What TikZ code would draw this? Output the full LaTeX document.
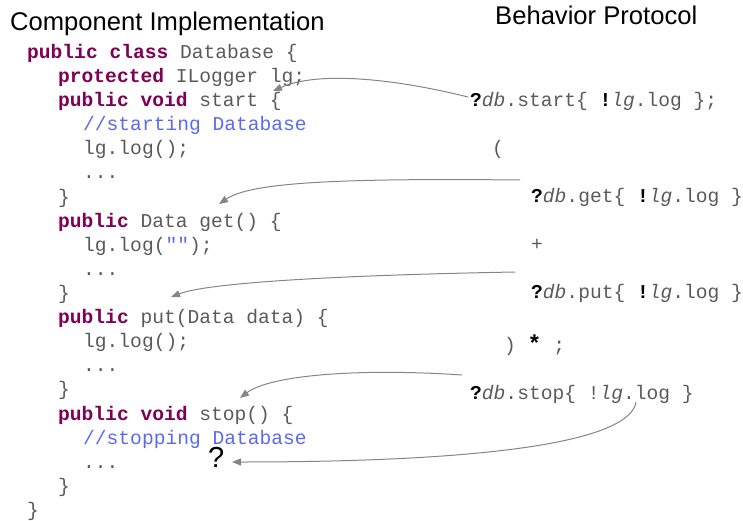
\documentclass[tikz,border=0pt]{standalone}
\usepackage{fontspec}
\usetikzlibrary{arrows.meta}
\newfontfamily\codefam{Liberation Mono}
\newfontfamily\titlefam{Liberation Sans}
\definecolor{codegray}{HTML}{5A5A5A}
\definecolor{kwpurple}{HTML}{7F0055}
\definecolor{cmblue}{HTML}{5A6AF0}
\definecolor{arrowgray}{HTML}{858585}
\newcommand\codefont{\codefam\fontsize{19.6}{22}\selectfont}
\newcommand\titlefont{\titlefam\fontsize{25.6}{28}\selectfont}
\newcommand\kw[1]{\textcolor{kwpurple}{\bfseries #1}}
\newcommand\cm[1]{\textcolor{cmblue}{#1}}
\newcommand\qmk{\textcolor{black}{\bfseries ?}}
\newcommand\exk{\textcolor{black}{\bfseries !}}
\tikzset{
  code/.style={anchor=base west, inner sep=0pt, font=\codefont, text=codegray},
  title/.style={anchor=base west, inner sep=0pt, font=\titlefont, text=black},
  link/.style={draw=arrowgray, line width=1pt, -{Triangle[length=9pt,width=7pt,fill=arrowgray]}},
}
\begin{document}
\begin{tikzpicture}[x=1pt,y=-1pt]
\useasboundingbox (0,0) rectangle (743,521);
% titles
\node[title] (t1) at (10,31) {Component Implementation};
\node[title] (t2) at (495,25) {Behavior Protocol};
% code
\node[code] (c0)  at (27,58.5)  {\kw{public class} Database \{};
\node[code] (c1)  at (58,82.6)  {\kw{protected} ILogger lg;};
\node[code] (c2)  at (58,106.7) {\kw{public void} start \{};
\node[code] (c3)  at (83,130.8) {\cm{//starting Database}};
\node[code] (c4)  at (83,154.9) {lg.log();};
\node[code] (c5)  at (83,179.0) {...};
\node[code] (c6)  at (58,203.1) {\}};
\node[code] (c7)  at (58,227.2) {\kw{public} Data get() \{};
\node[code] (c8)  at (83,251.3) {lg.log(\cm{""});};
\node[code] (c9)  at (83,275.4) {...};
\node[code] (c10) at (58,299.5) {\}};
\node[code] (c11) at (58,323.6) {\kw{public} put(Data data) \{};
\node[code] (c12) at (83,347.7) {lg.log();};
\node[code] (c13) at (83,371.8) {...};
\node[code] (c14) at (58,395.9) {\}};
\node[code] (c15) at (58,420.0) {\kw{public void} stop() \{};
\node[code] (c16) at (83,444.1) {\cm{//stopping Database}};
\node[code] (c17) at (83,468.2) {...};
\node[code] (c18) at (58,492.3) {\}};
\node[code] (c19) at (27,516.4) {\}};
% protocol
\node[code] (pstart) at (470,106.5) {\qmk\textit{db}.start\{ \exk\textit{lg}.log \};};
\node[code] (popen)  at (492,154.5) {(};
\node[code] (pget)   at (531,202.5) {\qmk\textit{db}.get\{ \exk\textit{lg}.log \}};
\node[code] (pplus)  at (531,250.5) {+};
\node[code] (pput)   at (531,298.5) {\qmk\textit{db}.put\{ \exk\textit{lg}.log \}};
\node[code] (pclose) at (504,351) {) {\color{black}\fontsize{23}{24}\selectfont\bfseries *} ;};
\node[code] (pstop)  at (470,399.5) {\qmk\textit{db}.stop\{ !\textit{lg}.log \}};
% question mark
\node[anchor=base west, inner sep=0pt, font=\titlefam\fontsize{29}{30}\selectfont] (qmark) at (208,467.5) {?};
% connector ends
\coordinate (s1) at (468,97);
\coordinate (e1) at (273,91);
\coordinate (s2) at (520,180);
\coordinate (e2) at (219,204);
\coordinate (s3) at (515,272);
\coordinate (e3) at (171,297);
\coordinate (s4) at (462,375);
\coordinate (e4) at (240,398);
\coordinate (s5) at (636,402);
\coordinate (e5) at (232,462);
% connectors
\draw[link] (s1) .. controls (400,80) and (320,70) .. (e1);
\draw[link] (s2) .. controls (330,178) and (250,183) .. (e2);
\draw[link] (s3) .. controls (350,275) and (210,282) .. (e3);
\draw[link] (s4) .. controls (360,368) and (270,375) .. (e4);
\draw[link] (s5) .. controls (630,440) and (500,462) .. (e5);
\end{tikzpicture}
\end{document}
